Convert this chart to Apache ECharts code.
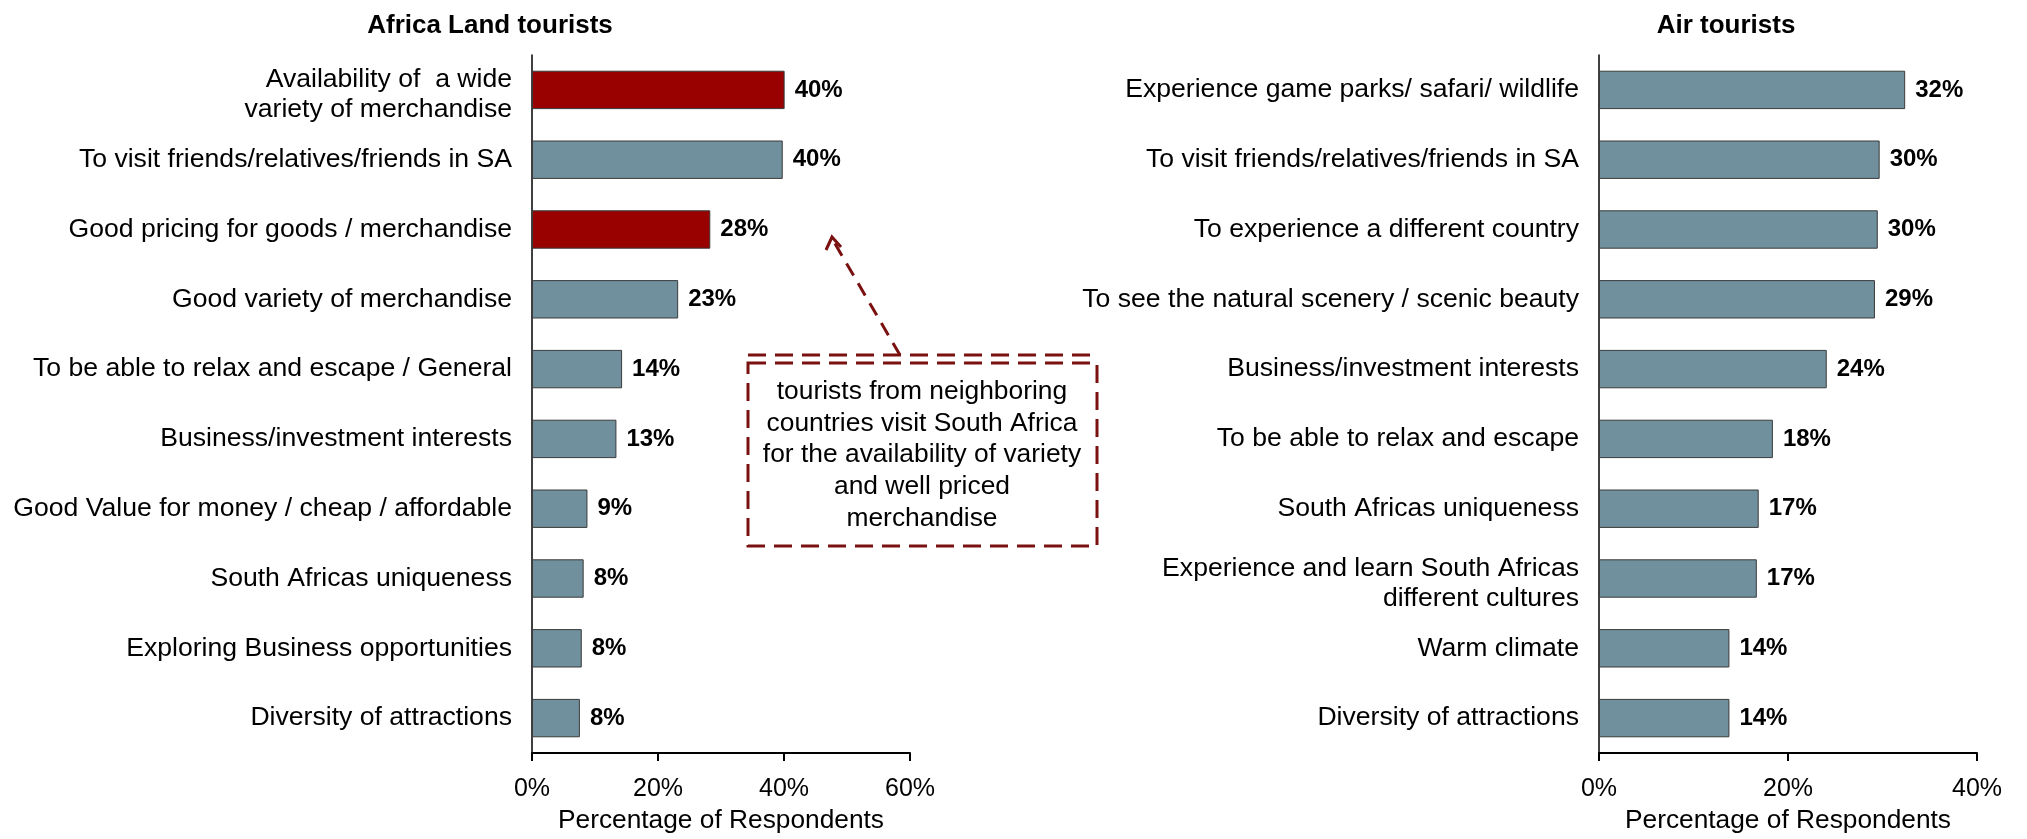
<!DOCTYPE html>
<html>
<head>
<meta charset="utf-8">
<script src="https://cdn.jsdelivr.net/npm/echarts@6/dist/echarts.min.js"></script>
<style>
html,body{margin:0;padding:0;background:#fff;}
#c{width:2027px;height:839px;}
</style>
</head>
<body>
<div id="c"></div>
<script>
const landCategories = [
  'Availability of  a wide\nvariety of merchandise',
  'To visit friends/relatives/friends in SA',
  'Good pricing for goods / merchandise',
  'Good variety of merchandise',
  'To be able to relax and escape / General',
  'Business/investment interests',
  'Good Value for money / cheap / affordable',
  'South Africas uniqueness',
  'Exploring Business opportunities',
  'Diversity of attractions'
];
const landValues = [40.1, 39.8, 28.3, 23.2, 14.3, 13.4, 8.8, 8.2, 7.9, 7.6];
const landHighlighted = [0, 2];

const airCategories = [
  'Experience game parks/ safari/ wildlife',
  'To visit friends/relatives/friends in SA',
  'To experience a different country',
  'To see the natural scenery / scenic beauty',
  'Business/investment interests',
  'To be able to relax and escape',
  'South Africas uniqueness',
  'Experience and learn South Africas\ndifferent cultures',
  'Warm climate',
  'Diversity of attractions'
];
const airValues = [32.4, 29.7, 29.5, 29.2, 24.1, 18.4, 16.9, 16.7, 13.8, 13.8];

const landTicks = [0, 20, 40, 60];
const airTicks = [0, 20, 40];

const titles = ['Africa Land tourists', 'Air tourists'];
const axisTitle = 'Percentage of Respondents';
const noteText = 'tourists from neighboring\ncountries visit South Africa\nfor the availability of variety\nand well priced\nmerchandise';

const FONT = '"Liberation Sans", Arial, sans-serif';
const BLUE = '#6F909C';
const RED = '#990000';
const DARKRED = '#7A1010';

const chart = echarts.init(document.getElementById('c'), null, {renderer: 'canvas'});

function xAxisFor(idx, ticks) {
  return {
    type: 'value', gridIndex: idx,
    min: ticks[0], max: ticks[ticks.length - 1], interval: ticks[1] - ticks[0],
    splitLine: {show: false},
    axisLine: {show: true, lineStyle: {color: '#000', width: 2}},
    axisTick: {show: true, length: 8, lineStyle: {color: '#000', width: 2}},
    axisLabel: {formatter: '{value}%', fontSize: 25, color: '#000', fontFamily: FONT, margin: 24},
    name: axisTitle, nameLocation: 'middle', nameGap: 55,
    nameTextStyle: {fontSize: 26.3, color: '#000', fontFamily: FONT}
  };
}
function yAxisFor(idx, cats) {
  return {
    type: 'category', gridIndex: idx, inverse: true, data: cats,
    axisLine: {show: true, lineStyle: {color: '#000', width: 1.5}},
    axisTick: {show: false},
    axisLabel: {
      fontSize: 26.6, color: '#000', fontFamily: FONT, margin: 20, lineHeight: 30, align: 'right',
      formatter: v => v.indexOf('\n') >= 0 ? '{s| }\n' + v : v,
      rich: {s: {fontSize: 1, lineHeight: 10}}
    }
  };
}
function labelCfg() {
  return {
    show: true, position: 'right', distance: 10,
    formatter: p => Math.round(p.value) + '%',
    fontSize: 24, fontWeight: 'bold', color: '#000', fontFamily: FONT
  };
}

chart.setOption({
  animation: false,
  backgroundColor: '#fff',
  title: [
    {text: titles[0], left: 485, top: 8, textAlign: 'center',
     textStyle: {fontSize: 26, fontWeight: 'bold', color: '#000', fontFamily: FONT}},
    {text: titles[1], left: 1721, top: 8, textAlign: 'center',
     textStyle: {fontSize: 26, fontWeight: 'bold', color: '#000', fontFamily: FONT}}
  ],
  grid: [
    {left: 532, top: 55, width: 378, height: 700, containLabel: false},
    {left: 1599, top: 55, width: 378, height: 700, containLabel: false}
  ],
  xAxis: [xAxisFor(0, landTicks), xAxisFor(1, airTicks)],
  yAxis: [yAxisFor(0, landCategories), yAxisFor(1, airCategories)],
  series: [
    {
      type: 'bar', xAxisIndex: 0, yAxisIndex: 0,
      barCategoryGap: '45%',
      data: landValues.map((v, i) => ({
        value: v,
        itemStyle: {color: landHighlighted.includes(i) ? RED : BLUE}
      })),
      itemStyle: {borderColor: '#3a3a3a', borderWidth: 1},
      label: labelCfg()
    },
    {
      type: 'bar', xAxisIndex: 1, yAxisIndex: 1,
      barCategoryGap: '45%',
      data: airValues,
      itemStyle: {color: BLUE, borderColor: '#3a3a3a', borderWidth: 1},
      label: labelCfg()
    }
  ],
  graphic: [
    {
      type: 'rect', shape: {x: 748, y: 363, width: 349, height: 183},
      style: {fill: 'none', stroke: DARKRED, lineWidth: 3, lineDash: [18, 9]}
    },
    {
      type: 'line', shape: {x1: 748, y1: 355, x2: 1090, y2: 355},
      style: {stroke: DARKRED, lineWidth: 3, lineDash: [18, 9]}
    },
    {
      type: 'line', shape: {x1: 900, y1: 355, x2: 834, y2: 242},
      style: {stroke: DARKRED, lineWidth: 3, lineDash: [14, 9]}
    },
    {
      type: 'polyline', shape: {points: [[826, 250], [832, 237], [841, 247]]},
      style: {stroke: DARKRED, fill: 'none', lineWidth: 3}
    },
    {
      type: 'text', x: 922, y: 455,
      style: {text: noteText, fontSize: 26.4, lineHeight: 31.7, fontFamily: FONT, fill: '#000',
              align: 'center', verticalAlign: 'middle'}
    }
  ]
});
</script>
</body>
</html>
